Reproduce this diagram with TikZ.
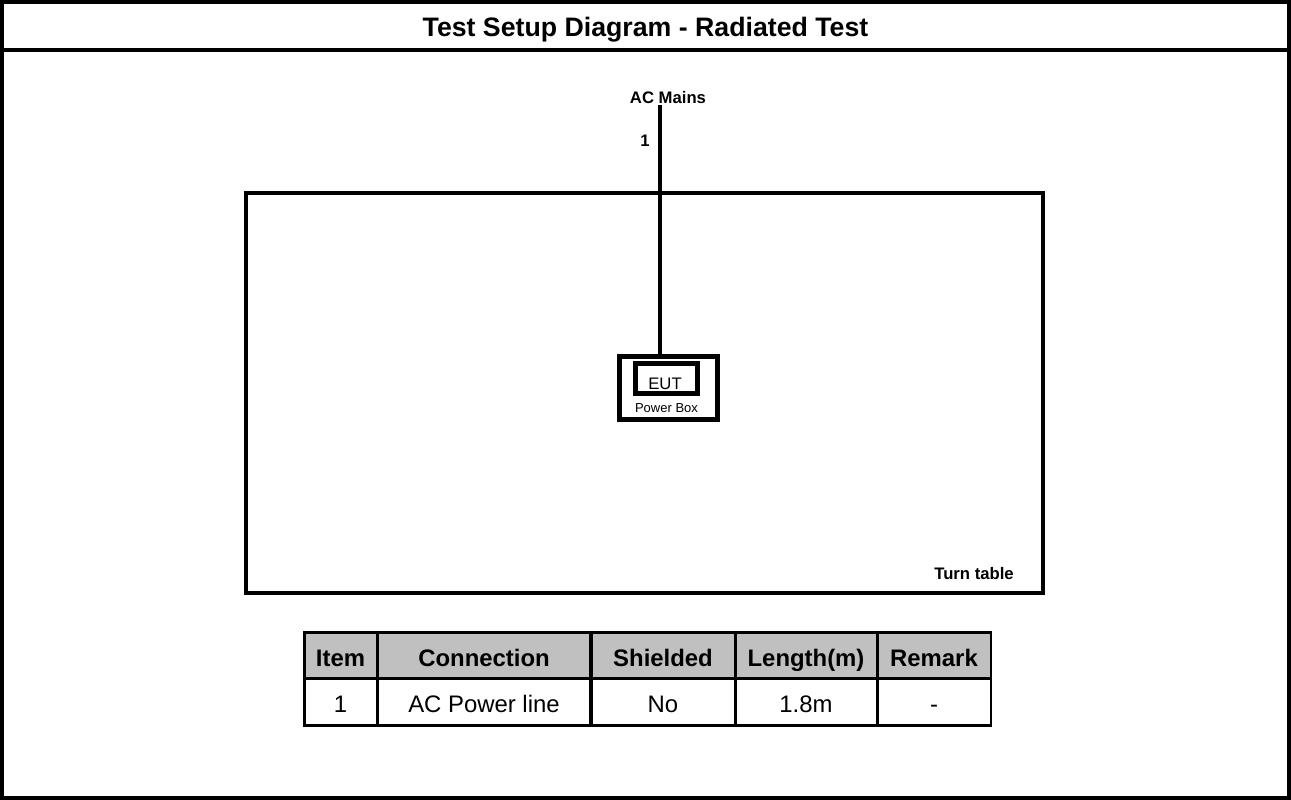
\documentclass[tikz,border=0pt]{standalone}
\usepackage{fontspec}
\setmainfont{Liberation Sans}
\usepackage{xcolor}
\usetikzlibrary{positioning}

\definecolor{headgray}{RGB}{192,192,192}
\tikzset{
	frameline/.style={line width=2.3pt},
	thickbox/.style={draw, line width=2.8pt, inner sep=0pt},
	smalllbl/.style={inner sep=1pt, anchor=base, font=\fontsize{9.5}{11}\selectfont\bfseries},
	cell/.style={draw, line width=1.7pt, inner sep=0pt, text height=12.6pt, text depth=0pt, font=\fontsize{13.6}{16}\selectfont},
	headcell/.style={cell, fill=headgray, font=\fontsize{13.6}{16}\selectfont\bfseries},
}

\begin{document}
\begin{tikzpicture}[x=0.02cm, y=-0.02cm]
				% Page frame and title:
				\useasboundingbox (0,0) rectangle (1291,800);
				\draw[frameline] (2,2) rectangle (1289,798);
				\draw[frameline] (0,50) -- (1291,50);
				\node[anchor=base, font=\fontsize{15.2}{18}\selectfont\bfseries](title) at (645.5,37){Test Setup Diagram - Radiated Test};
				% Turn table and EUT:
				\draw[frameline] (246,193) rectangle (1043,593);
				\node[smalllbl](turn) at (974,579){Turn table};
				\node[thickbox, minimum width=1.96cm, minimum height=1.26cm](pbox) at (668.5,388){};
				\node[thickbox, minimum width=1.24cm, minimum height=0.6cm](eut) at (666.5,378.5){};
				\node[anchor=base, inner sep=0pt, font=\fontsize{9.5}{11}\selectfont](euttxt) at (665,389){EUT};
				\node[below=1pt of eut, font=\fontsize{7.4}{9}\selectfont](pwr){Power Box};
				% AC mains cable:
				\node[smalllbl](mains) at (668,104){AC Mains};
				\coordinate (plug) at (660,105);
				\node[smalllbl](cable1) at (645,147){1};
				\draw[line width=2.8pt] (plug) -- (plug |- pbox.north);
				% Cable table:
				\foreach \cx/\cw/\head/\val [count=\i] in {340.5/1.46/Item/1, 484/4.28/Connection/AC Power line, 663/2.88/Shielded/No, 806/2.84/Length(m)/1.8m, 934/2.28/Remark/-}{
					\node[headcell, minimum width=\cw cm, minimum height=0.91cm](h\i) at (\cx,655.25){\head};
					\node[cell, minimum width=\cw cm, minimum height=0.95cm](c\i) at (\cx,701.75){\val};
				}
			\end{tikzpicture}
\end{document}
